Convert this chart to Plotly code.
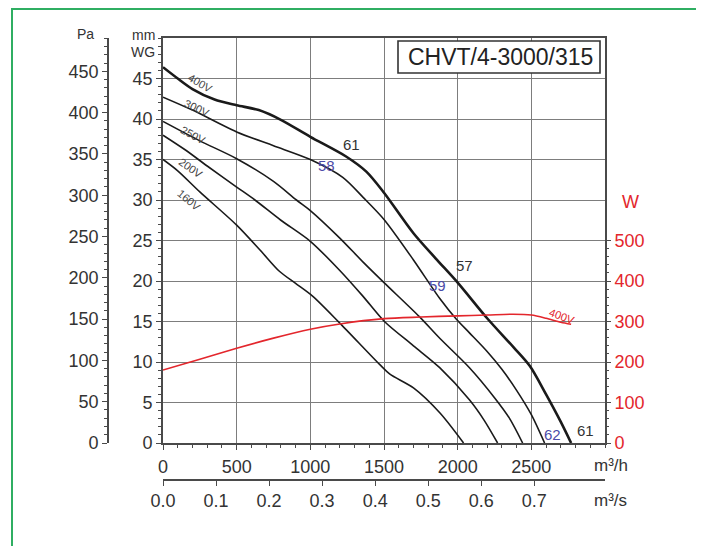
import plotly.graph_objects as go

# ---------------- data (m3/h, mm WG) ----------------
flow_400 = [0, 100, 200, 350, 500, 650, 800, 1000, 1240, 1380, 1500, 1700, 1850, 2000, 2200, 2380, 2490, 2600, 2700, 2770]
p_400 = [46.4, 45.0, 43.7, 42.4, 41.7, 41.1, 39.9, 37.8, 35.4, 33.5, 30.9, 25.9, 22.8, 19.8, 15.4, 11.8, 9.5, 6.0, 2.6, 0]

flow_300 = [0, 200, 500, 750, 1000, 1220, 1360, 1500, 1700, 1880, 1990, 2080, 2200, 2300, 2400, 2500, 2590]
p_300 = [42.7, 41.1, 38.4, 36.7, 35.0, 32.8, 30.3, 27.6, 22.6, 17.8, 15.3, 13.6, 11.3, 9.1, 6.5, 3.5, 0]

flow_250 = [0, 250, 500, 750, 906, 1000, 1200, 1360, 1500, 1740, 1880, 2080, 2250, 2350, 2441]
p_250 = [39.7, 37.3, 35.1, 32.3, 30.0, 28.7, 25.3, 22.3, 19.8, 15.6, 12.9, 9.3, 5.6, 3.1, 0]

flow_200 = [0, 150, 300, 500, 624, 800, 1000, 1200, 1358, 1503, 1700, 1878, 2081, 2180, 2271]
p_200 = [38.0, 36.2, 34.2, 31.6, 30.0, 27.5, 24.9, 21.3, 18.1, 15.0, 12.0, 9.3, 5.3, 2.8, 0]

flow_160 = [0, 100, 250, 500, 660, 790, 900, 1017, 1200, 1470, 1540, 1700, 1880, 2040]
p_160 = [35.0, 33.6, 31.0, 26.9, 23.8, 21.2, 19.7, 18.1, 14.8, 9.7, 8.5, 6.8, 3.7, 0]

# absorbed power at 400V (W)
flow_w = [0, 250, 500, 750, 1000, 1200, 1500, 1750, 2000, 2200, 2375, 2500, 2600, 2700, 2770]
watt = [180, 207, 234, 259, 281, 294, 307, 311, 314, 316, 318, 316, 308, 298, 293]

flow_ticks = [0, 500, 1000, 1500, 2000, 2500]
mm_ticks = [0, 5, 10, 15, 20, 25, 30, 35, 40, 45]
pa_ticks = [0, 50, 100, 150, 200, 250, 300, 350, 400, 450]
w_ticks = [0, 100, 200, 300, 400, 500]
ms_ticks = [0.0, 0.1, 0.2, 0.3, 0.4, 0.5, 0.6, 0.7]
ms_labels = ["0.0", "0.1", "0.2", "0.3", "0.4", "0.5", "0.6", "0.7"]

curve_labels = ["400V", "300V", "250V", "200V", "160V"]

PA_PER_MM = 9.80665
W_PER_MM = 20.0
X_MAX = 3000
Y_MAX = 50

# ---------------- layout geometry ----------------
OFF = 8                      # page body margin
W, H = 704 - OFF, 546 - OFF
ML, MR, MT, MB = 92, 99, 30, 66
PW = W - ML - MR
PH = H - MT - MB


def px(x):
    """page pixel x -> paper x"""
    return (x - OFF - ML) / PW


def py(y):
    """page pixel y -> paper y"""
    return (H - MB - (y - OFF)) / PH


FONT = "Liberation Sans, Arial, sans-serif"
AX = "#4a4a4a"
GRID = "#7d7d7d"
TXT = "#333333"
RED = "#e3262c"
BLUE = "#4b4ba8"

fig = go.Figure()

curves = [(flow_400, p_400, 2.6), (flow_300, p_300, 1.6), (flow_250, p_250, 1.6),
          (flow_200, p_200, 1.6), (flow_160, p_160, 1.6)]
for fx, fy, wdt in curves:
    fig.add_trace(go.Scatter(x=fx, y=fy, mode="lines", xaxis="x", yaxis="y",
                             line=dict(color="#1a1a1a", width=wdt, shape="spline", smoothing=0.8),
                             hoverinfo="skip", showlegend=False))

fig.add_trace(go.Scatter(x=flow_w, y=watt, mode="lines", xaxis="x", yaxis="y3",
                         line=dict(color=RED, width=1.6, shape="spline", smoothing=0.8),
                         hoverinfo="skip", showlegend=False))

# invisible traces so the secondary scales (Pa, m3/s) are drawn
fig.add_trace(go.Scatter(x=flow_400, y=[v * PA_PER_MM for v in p_400], mode="lines",
                         xaxis="x", yaxis="y2", line=dict(width=0, color="rgba(0,0,0,0)"),
                         hoverinfo="skip", showlegend=False))
fig.add_trace(go.Scatter(x=[v / 3600 for v in flow_400], y=p_400, mode="lines",
                         xaxis="x2", yaxis="y", line=dict(width=0, color="rgba(0,0,0,0)"),
                         hoverinfo="skip", showlegend=False))

tickfont = dict(family=FONT, size=18, color=TXT)

fig.update_layout(
    width=W, height=H,
    margin=dict(l=ML, r=MR, t=MT, b=MB, pad=0),
    paper_bgcolor="white", plot_bgcolor="white",
    font=dict(family=FONT, color=TXT),
    showlegend=False,
    xaxis=dict(domain=[px(163), 1], range=[0, X_MAX], tickmode="array", tickvals=flow_ticks,
               automargin=False,
               showgrid=True, gridcolor=GRID, gridwidth=1.2, zeroline=False,
               showline=True, linecolor=AX, linewidth=1.6, mirror=True,
               ticks="outside", ticklen=5, tickcolor=AX, tickfont=tickfont, ticklabelstandoff=2,
               minor=dict(dtick=100, ticks="outside", ticklen=3, tickcolor=AX, showgrid=False)),
    yaxis=dict(domain=[py(443), 1], range=[0, Y_MAX], tickmode="array", tickvals=mm_ticks,
               automargin=False,
               showgrid=True, gridcolor=GRID, gridwidth=1.2, zeroline=False,
               showline=True, linecolor=AX, linewidth=1.6, mirror=True,
               ticks="outside", ticklen=5, tickcolor=AX, tickfont=tickfont,
               minor=dict(dtick=1, ticks="outside", ticklen=3, tickcolor=AX, showgrid=False)),
    yaxis2=dict(overlaying="y", anchor="free", position=px(108), side="left",
                automargin=False,
                range=[0, Y_MAX * PA_PER_MM], tickmode="array", tickvals=pa_ticks,
                showgrid=False, zeroline=False, showline=True, linecolor=AX, linewidth=1.6,
                ticks="outside", ticklen=5, tickcolor=AX, tickfont=tickfont,
                minor=dict(dtick=10, ticks="outside", ticklen=3, tickcolor=AX, showgrid=False)),
    yaxis3=dict(overlaying="y", anchor="x", side="right", automargin=False,
                range=[0, Y_MAX * W_PER_MM], tickmode="array", tickvals=w_ticks,
                showgrid=False, zeroline=False, showline=False,
                ticks="outside", ticklen=5, tickcolor=AX,
                tickfont=dict(family=FONT, size=18, color=RED),
                minor=dict(tickmode="array", tickvals=list(range(0, 520, 20)),
                           ticks="outside", ticklen=3, tickcolor=AX, showgrid=False)),
    xaxis2=dict(overlaying="x", anchor="free", position=0, side="bottom", automargin=False,
                range=[0, X_MAX / 3600], tickmode="array", tickvals=ms_ticks, ticktext=ms_labels,
                showgrid=False, zeroline=False, showline=True, linecolor=AX, linewidth=1.6,
                ticks="outside", ticklen=5, tickcolor=AX, tickfont=tickfont),
)


def label(x, y, text, size, color, **kw):
    return dict(x=px(x), y=py(y), xref="paper", yref="paper", text=text, showarrow=False,
                xanchor="center", yanchor="middle", font=dict(family=FONT, size=size, color=color), **kw)


ann = [
    label(85, 34, "Pa", 14, TXT),
    label(143, 35, "mm", 14, TXT),
    label(143, 52, "WG", 14, TXT),
    label(630, 202, "W", 18, RED),
    label(611, 465, "m³/h", 17, TXT),
    label(610, 500, "m³/s", 17, TXT),
    label(500, 57, "CHVT/4-3000/315", 23, "#222"),
]

# voltage labels along curves (data coordinates)
volt_pos = [(251, 44.4, 30), (230, 41.4, 25), (203, 38.0, 28), (190, 34.0, 35), (176, 30.0, 40)]
for lab, (lx, ly, ang) in zip(curve_labels, volt_pos):
    ann.append(dict(x=lx, y=ly, xref="x", yref="y", text=lab, textangle=ang, showarrow=False,
                    xanchor="center", yanchor="middle", font=dict(size=11, color="#444")))
ann.append(dict(x=2705, y=15.7, xref="x", yref="y", text="400V", textangle=20, showarrow=False,
                xanchor="center", yanchor="middle", font=dict(size=11, color=RED)))

# numbers printed near the curves
nums = [("61", 1281, 36.8, TXT), ("58", 1112, 34.3, BLUE), ("57", 2047, 21.9, TXT),
        ("59", 1864, 19.5, BLUE), ("62", 2644, 1.1, BLUE), ("61", 2868, 1.5, TXT)]
for t, lx, ly, c in nums:
    ann.append(dict(x=lx, y=ly, xref="x", yref="y", text=t, showarrow=False,
                    xanchor="center", yanchor="middle", font=dict(size=15, color=c)))

fig.update_layout(annotations=ann)

fig.update_layout(shapes=[
    dict(type="rect", xref="paper", yref="paper", x0=px(398), x1=px(600), y0=py(73), y1=py(41),
         line=dict(color="#333", width=1.6), fillcolor="white", layer="above"),
    dict(type="rect", xref="paper", yref="paper", x0=px(12), x1=px(702), y0=py(560), y1=py(9),
         line=dict(color="#2fae62", width=2), layer="above"),
])

fig.write_html("out.html")
